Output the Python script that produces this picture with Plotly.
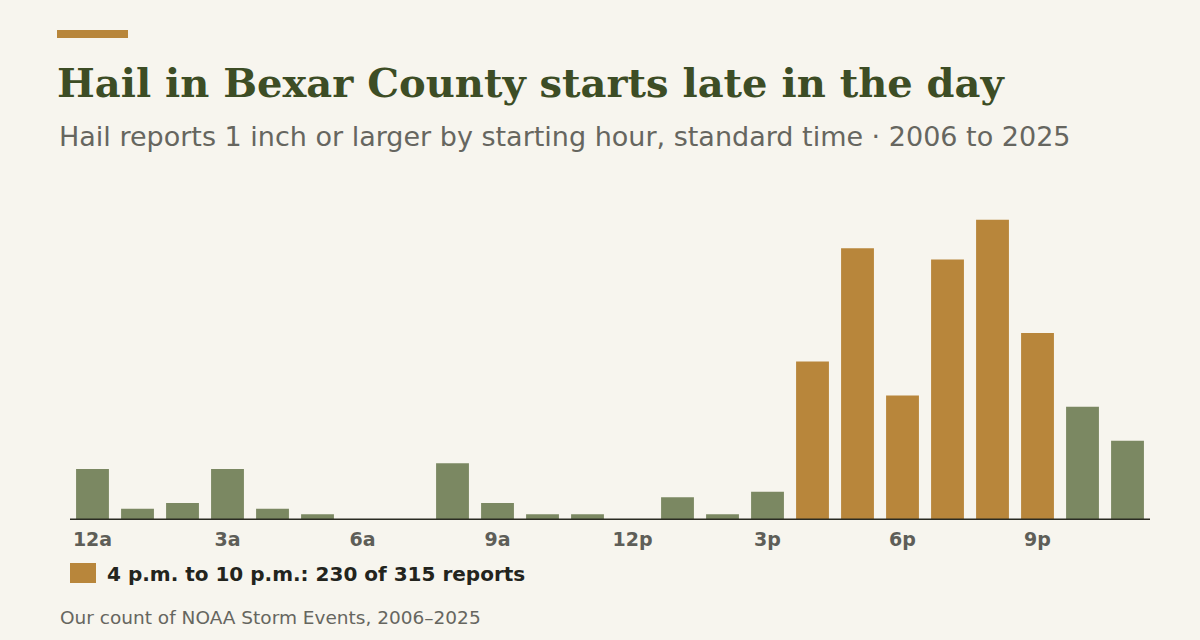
import plotly.graph_objects as go

hours = list(range(24))
counts = [9, 2, 3, 9, 2, 1, 0, 0, 10, 3, 1, 1, 0, 4, 1, 5, 28, 48, 22, 46, 53, 33, 20, 14]
tick_vals = [0, 3, 6, 9, 12, 15, 18, 21]
tick_text = ["12a", "3a", "6a", "9a", "12p", "3p", "6p", "9p"]
peak_hours = [16, 17, 18, 19, 20, 21]

GREEN = "#7b8862"
GOLD = "#b8863b"
BG = "#f7f5ee"

W, H = 1200, 640
L, R, T, B = 70, 50, 200, 120
PW, PH = W - L - R, H - T - B

def px(x):
    return (x - L) / PW

def py(y):
    return (H - B - y) / PH

colors = [GOLD if h in peak_hours else GREEN for h in hours]

fig = go.Figure(go.Bar(x=hours, y=counts, marker=dict(color=colors, line=dict(width=0)),
                       hoverinfo="x+y"))

sans = "'DejaVu Sans', 'Open Sans', sans-serif"
fig.update_layout(
    width=W, height=H, margin=dict(l=L, r=R, t=T, b=B),
    paper_bgcolor=BG, plot_bgcolor=BG, bargap=0.27, showlegend=False,
    xaxis=dict(range=[-0.5, 23.5], tickmode="array", tickvals=tick_vals,
               ticktext=["<b>%s</b>" % t for t in tick_text],
               showgrid=False, zeroline=False, showline=False, ticks="",
               tickfont=dict(family=sans, size=19, color="#5e5e58"), ticklabelstandoff=6),
    yaxis=dict(range=[0, 56.5], visible=False, showgrid=False, zeroline=False),
    font=dict(family=sans),
)

shapes = [
    dict(type="line", xref="paper", yref="y", x0=0, x1=1, y0=0, y1=0,
         line=dict(color="#2a2b22", width=3)),
    dict(type="rect", xref="paper", yref="paper", x0=px(57), x1=px(128), y0=py(30), y1=py(38),
         fillcolor=GOLD, line=dict(width=0)),
    dict(type="rect", xref="paper", yref="paper", x0=px(70), x1=px(96), y0=py(563), y1=py(583),
         fillcolor=GOLD, line=dict(width=0)),
]
fig.update_layout(shapes=shapes)

ann = [
    dict(text="<b>Hail in Bexar County starts late in the day</b>", x=px(55), y=py(83),
         font=dict(family="'DejaVu Serif', serif", size=40, color="#3d4d25")),
    dict(text="Hail reports 1 inch or larger by starting hour, standard time · 2006 to 2025",
         x=px(57), y=py(136), font=dict(family=sans, size=27, color="#66665f")),
    dict(text="<b>4 p.m. to 10 p.m.: 230 of 315 reports</b>", x=px(105), y=py(574),
         font=dict(family=sans, size=20, color="#23241d")),
    dict(text="Our count of NOAA Storm Events, 2006–2025", x=px(58), y=py(617),
         font=dict(family=sans, size=18.5, color="#66665f")),
]
for a in ann:
    a.update(xref="paper", yref="paper", xanchor="left", yanchor="middle", showarrow=False)
fig.update_layout(annotations=ann)

fig.write_html("out.html")
